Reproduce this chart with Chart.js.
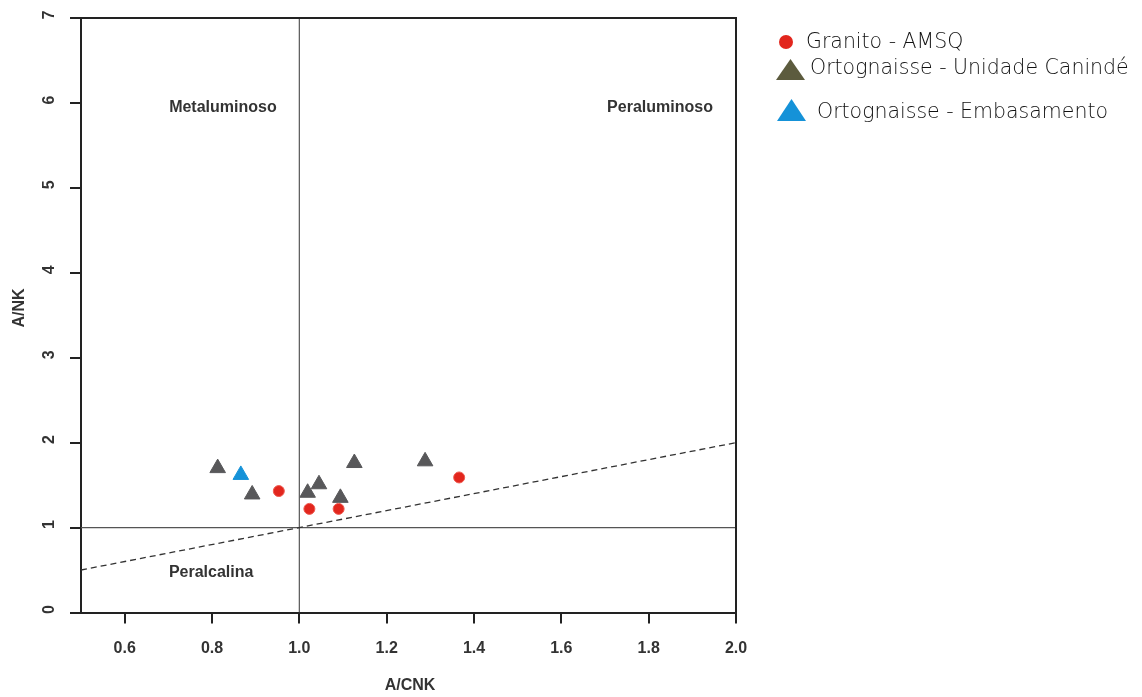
<!DOCTYPE html>
<html>
<head>
<meta charset="utf-8">
<script src="https://cdn.jsdelivr.net/npm/chart.js@4/dist/chart.umd.min.js"></script>
<style>
  html, body { margin: 0; padding: 0; background: #fff; }
  #wrap { position: relative; width: 1142px; height: 697px; }
</style>
</head>
<body>
<div id="wrap"><canvas id="c" width="1142" height="697"></canvas></div>
<script>
// ---- data ----
const granitoX = [0.953, 1.023, 1.090, 1.366];
const granitoY = [1.43, 1.22, 1.22, 1.59];
const canindeX = [0.813, 0.892, 1.019, 1.045, 1.094, 1.126, 1.288];
const canindeY = [1.70, 1.39, 1.41, 1.51, 1.35, 1.76, 1.78];
const embasX = [0.866];
const embasY = [1.62];

const seriesNames = ['Granito - AMSQ', 'Ortognaisse - Unidade Canindé', 'Ortognaisse - Embasamento'];
const xTicks = [0.6, 0.8, 1.0, 1.2, 1.4, 1.6, 1.8, 2.0];
const yTicks = [0, 1, 2, 3, 4, 5, 6, 7];
const xTitle = 'A/CNK';
const yTitle = 'A/NK';
const fieldLabels = ['Metaluminoso', 'Peraluminoso', 'Peralcalina'];
const fieldLabelX = [0.825, 1.826, 0.798];
const fieldLabelY = [5.95, 5.95, 0.465];

// boundary lines
const dashX = [0.5, 2.0], dashY = [0.5, 2.0];
const vertX = [1.0, 1.0], vertY = [0, 7];
const horX = [0.5, 2.0], horY = [1, 1];

const pts = (xs, ys) => xs.map((x, i) => ({ x, y: ys[i] }));

const RED = '#e2261d', GRAY = '#58585a', BLUE = '#1592d8', OLIVE = '#5c5b3e';
const BOLD = 'bold 16px "Liberation Sans", Arial, sans-serif';

const overlay = {
  id: 'overlay',
  afterDraw(chart) {
    const ctx = chart.ctx;
    const xs = chart.scales.x, ys = chart.scales.y;
    const a = chart.chartArea;
    ctx.save();
    // frame top & right
    ctx.strokeStyle = '#222';
    ctx.lineWidth = 2;
    ctx.beginPath();
    ctx.moveTo(a.left - 11, a.top);
    ctx.lineTo(a.right, a.top);
    ctx.lineTo(a.right, a.bottom);
    ctx.stroke();

    // y tick labels (rotated)
    ctx.fillStyle = '#333';
    ctx.font = BOLD;
    ctx.textAlign = 'center';
    ctx.textBaseline = 'middle';
    yTicks.forEach(v => {
      const py = ys.getPixelForValue(v) - 3;
      ctx.save();
      ctx.translate(50, py);
      ctx.rotate(-Math.PI / 2);
      ctx.fillText(String(v), 0, 0);
      ctx.restore();
    });
    // axis titles
    ctx.save();
    ctx.translate(20, 308);
    ctx.rotate(-Math.PI / 2);
    ctx.fillText(yTitle, 0, 0);
    ctx.restore();
    ctx.fillText(xTitle, 410, 686);

    // field labels
    ctx.font = BOLD;
    fieldLabels.forEach((t, i) => {
      ctx.fillText(t, xs.getPixelForValue(fieldLabelX[i]), ys.getPixelForValue(fieldLabelY[i]));
    });

    // legend
    ctx.font = '200 20.5px "DejaVu Sans", sans-serif';
    ctx.textAlign = 'left';
    // red circle
    ctx.beginPath();
    ctx.fillStyle = RED;
    ctx.arc(786, 42, 7, 0, Math.PI * 2);
    ctx.fill();
    ctx.fillStyle = '#111';
    ctx.fillText(seriesNames[0], 806, 43);
    // olive triangle
    ctx.fillStyle = OLIVE;
    ctx.beginPath();
    ctx.moveTo(790.5, 59); ctx.lineTo(805, 80); ctx.lineTo(776, 80); ctx.closePath();
    ctx.fill();
    ctx.fillStyle = '#111';
    ctx.fillText(seriesNames[1], 810, 69);
    // blue triangle
    ctx.fillStyle = BLUE;
    ctx.beginPath();
    ctx.moveTo(791.5, 99); ctx.lineTo(806, 121); ctx.lineTo(777, 121); ctx.closePath();
    ctx.fill();
    ctx.fillStyle = '#111';
    ctx.fillText(seriesNames[2], 817, 113);
    ctx.restore();
  }
};

new Chart(document.getElementById('c'), {
  type: 'scatter',
  data: {
    datasets: [
      { type: 'line', data: pts(dashX, dashY), borderColor: '#333', borderWidth: 1.3, borderDash: [6, 4], pointRadius: 0, order: 10 },
      { type: 'line', data: pts(vertX, vertY), borderColor: '#555', borderWidth: 1.2, pointRadius: 0, order: 10 },
      { type: 'line', data: pts(horX, horY), borderColor: '#555', borderWidth: 1.2, pointRadius: 0, order: 10 },
      { label: seriesNames[0], data: pts(granitoX, granitoY), pointStyle: 'circle', pointRadius: 5.5, backgroundColor: RED, borderColor: '#ee5a50', borderWidth: 1, order: 1 },
      { label: seriesNames[1], data: pts(canindeX, canindeY), pointStyle: 'triangle', pointRadius: 9, backgroundColor: GRAY, borderColor: GRAY, borderWidth: 1, order: 1 },
      { label: seriesNames[2], data: pts(embasX, embasY), pointStyle: 'triangle', pointRadius: 9, backgroundColor: BLUE, borderColor: BLUE, borderWidth: 1, order: 1 }
    ]
  },
  options: {
    responsive: false,
    animation: false,
    layout: { padding: { left: 0, right: 406, top: 18, bottom: 0 } },
    plugins: { legend: { display: false }, tooltip: { enabled: false } },
    scales: {
      x: {
        type: 'linear', min: 0.5, max: 2.0,
        afterBuildTicks: s => { s.ticks = xTicks.map(v => ({ value: v })); },
        afterFit: s => { s.height = 84.5; },
        grid: { drawOnChartArea: false, drawTicks: true, tickLength: 11, color: '#222', lineWidth: 2 },
        border: { display: true, color: '#222', width: 2 },
        ticks: { color: '#333', font: { family: '"Liberation Sans", Arial, sans-serif', size: 16, weight: 'bold' }, padding: 15, maxRotation: 0, callback: v => Number(v).toFixed(1) }
      },
      y: {
        type: 'linear', min: 0, max: 7,
        afterBuildTicks: s => { s.ticks = yTicks.map(v => ({ value: v })); },
        afterFit: s => { s.width = 81; },
        grid: { drawOnChartArea: false, drawTicks: true, tickLength: 11, color: '#222', lineWidth: 2 },
        border: { display: true, color: '#222', width: 2 },
        ticks: { display: false }
      }
    }
  },
  plugins: [overlay]
});
</script>
</body>
</html>
